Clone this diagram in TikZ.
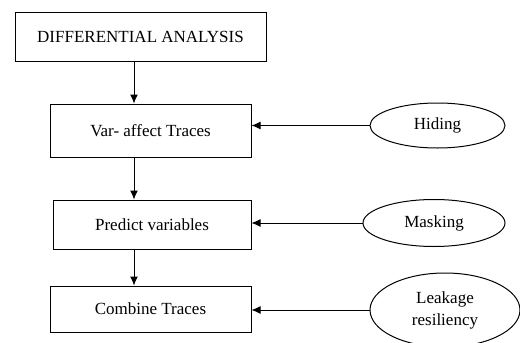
\documentclass[tikz,border=0pt]{standalone}
\usepackage{fontspec}
\setmainfont{Liberation Serif}
\usetikzlibrary{shapes.geometric,arrows.meta}

\begin{document}
\begin{tikzpicture}[x=1pt,y=1pt,
  every node/.style={font=\fontsize{17}{22}\selectfont, inner sep=0pt, line width=1pt},
  stage/.style={draw, rectangle},
  measure/.style={draw, ellipse, align=center}]
\useasboundingbox (0,0) rectangle (520,-343);

\node[stage, minimum width=251, minimum height=49] (diff) at (140.5,-36.5) {DIFFERENTIAL ANALYSIS};
\node[stage, minimum width=201, minimum height=53] (var) at (150.5,-130.5) {Var- affect Traces};
\node[stage, minimum width=198, minimum height=49] (pred) at (152,-224.5) {Predict variables};
\node[stage, minimum width=201, minimum height=46] (comb) at (150.5,-309) {Combine Traces};

\node[measure, minimum width=135, minimum height=45] (hide) at (437.5,-125.5) {Hiding};
\node[measure, minimum width=142, minimum height=47] (mask) at (434,-223) {Masking};
\node[measure, minimum width=150, minimum height=74] (leak) at (445,-310) {Leakage\\resiliency};

\path[draw,line width=1pt,->,>={Latex[length=9pt,width=8pt]}] (diff.south -| 134,0) -- (var.north -| 134,0);
\path[draw,line width=1pt,->,>={Latex[length=9pt,width=8pt]}] (var.south -| 134,0) -- (pred.north -| 134,0);
\path[draw,line width=1pt,->,>={Latex[length=9pt,width=8pt]}] (pred.south -| 134,0) -- (comb.north -| 134,0);
\path[draw,line width=1pt,->,>={Latex[length=9pt,width=8pt]}] (hide.west) -- (hide.west -| var.east);
\path[draw,line width=1pt,->,>={Latex[length=9pt,width=8pt]}] (mask.west) -- (mask.west -| pred.east);
\path[draw,line width=1pt,->,>={Latex[length=9pt,width=8pt]}] (leak.west) -- (leak.west -| comb.east);
\end{tikzpicture}
\end{document}
